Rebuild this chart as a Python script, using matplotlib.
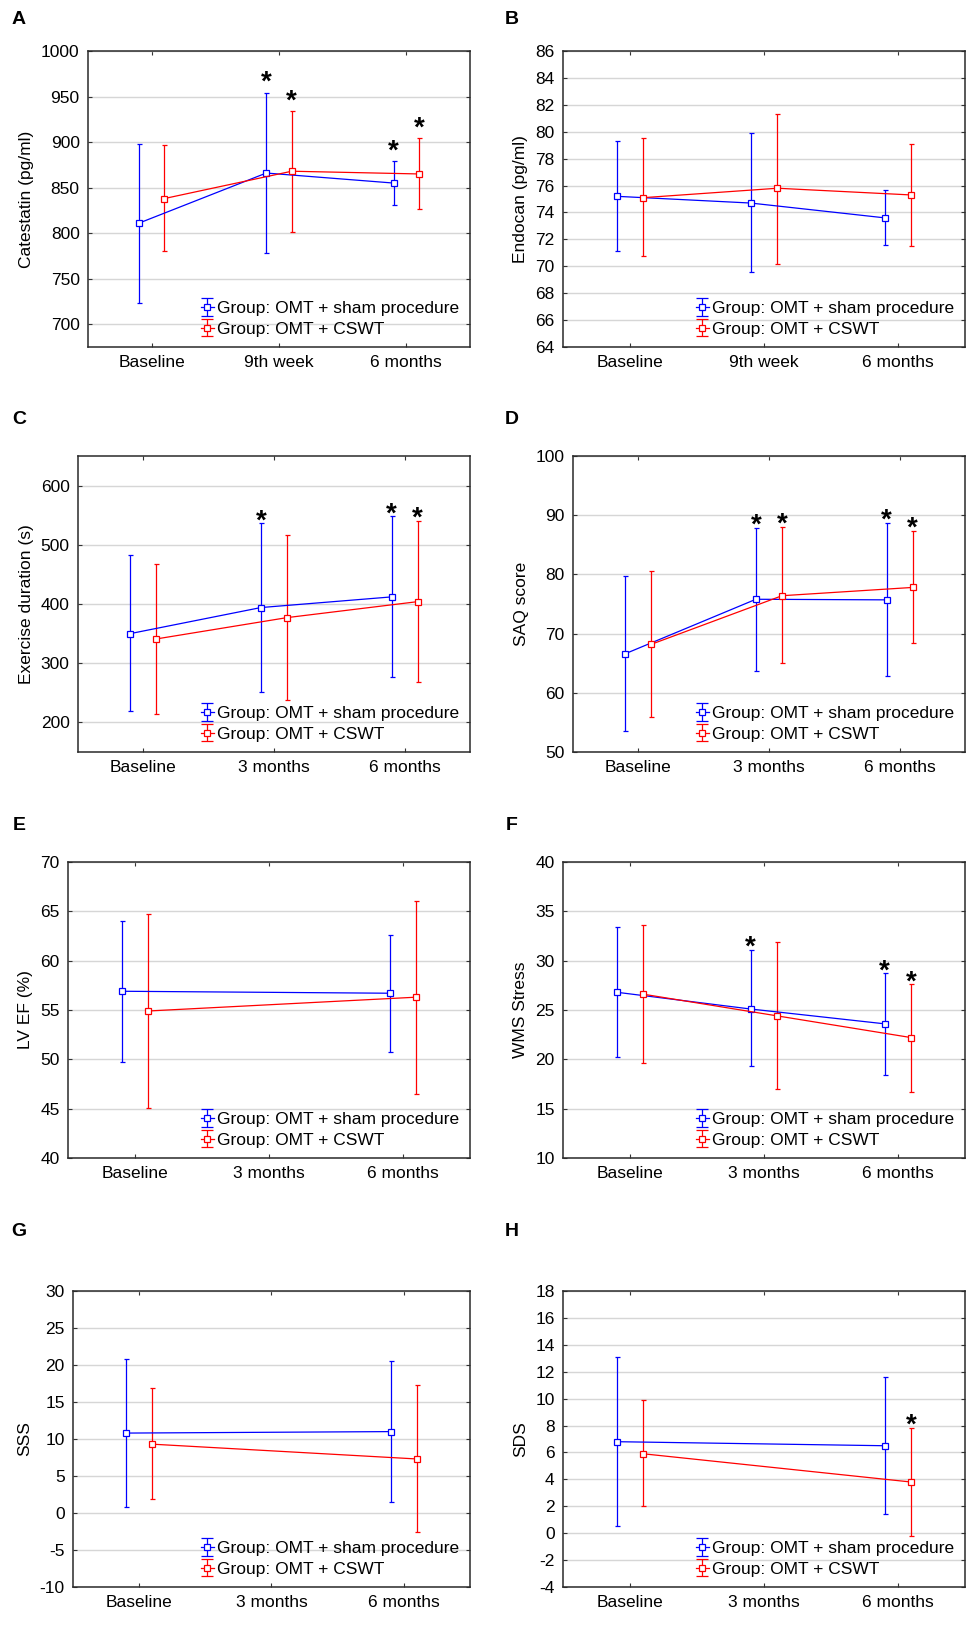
import numpy as np
import matplotlib
matplotlib.use('Agg')
import matplotlib.pyplot as plt
from matplotlib.lines import Line2D
from matplotlib.legend_handler import HandlerErrorbar

plt.rcParams['font.family'] = ['Liberation Sans', 'DejaVu Sans']
plt.rcParams['axes.unicode_minus'] = False

W, H = 970, 1637

groups = ['Group: OMT + sham procedure', 'Group: OMT + CSWT']
colors = ['#0000ff', '#ff0000']
offsets = [-0.1, 0.1]

labels_9w = ['Baseline', '9th week', '6 months']
labels_3m = ['Baseline', '3 months', '6 months']

# A - catestatin (pg/ml)
cat_mean = [[811, 866, 855], [838, 868, 865]]
cat_lo = [[723, 778, 831], [780, 801, 827]]
cat_hi = [[898, 954, 879], [897, 934, 904]]
cat_star = [[0, 1, 1], [0, 1, 1]]

# B - endocan (pg/ml)
endo_mean = [[75.2, 74.7, 73.6], [75.1, 75.8, 75.3]]
endo_lo = [[71.1, 69.6, 71.6], [70.8, 70.2, 71.5]]
endo_hi = [[79.3, 79.9, 75.7], [79.5, 81.3, 79.1]]
endo_star = [[0, 0, 0], [0, 0, 0]]

# C - exercise duration (s)
ex_mean = [[350, 394, 412], [341, 377, 404]]
ex_lo = [[220, 252, 276], [215, 238, 268]]
ex_hi = [[482, 536, 548], [467, 517, 540]]
ex_star = [[0, 1, 1], [0, 0, 1]]

# D - SAQ score
saq_mean = [[66.6, 75.8, 75.7], [68.2, 76.4, 77.8]]
saq_lo = [[53.6, 63.7, 62.8], [55.9, 65.0, 68.4]]
saq_hi = [[79.8, 87.9, 88.7], [80.6, 88.0, 87.4]]
saq_star = [[0, 1, 1], [0, 1, 1]]

# E - LV EF (%), no 3 month measurement
ef_mean = [[56.9, np.nan, 56.7], [54.9, np.nan, 56.3]]
ef_lo = [[49.7, np.nan, 50.7], [45.1, np.nan, 46.5]]
ef_hi = [[64.0, np.nan, 62.6], [64.7, np.nan, 66.0]]
ef_star = [[0, 0, 0], [0, 0, 0]]

# F - WMS stress
wms_mean = [[26.8, 25.1, 23.6], [26.6, 24.4, 22.2]]
wms_lo = [[20.2, 19.3, 18.4], [19.6, 17.0, 16.7]]
wms_hi = [[33.4, 31.1, 28.7], [33.6, 31.9, 27.6]]
wms_star = [[0, 1, 1], [0, 0, 1]]

# G - SSS
sss_mean = [[10.8, np.nan, 11.0], [9.3, np.nan, 7.3]]
sss_lo = [[0.8, np.nan, 1.5], [1.9, np.nan, -2.5]]
sss_hi = [[20.8, np.nan, 20.5], [16.9, np.nan, 17.3]]
sss_star = [[0, 0, 0], [0, 0, 0]]

# H - SDS
sds_mean = [[6.8, np.nan, 6.5], [5.9, np.nan, 3.8]]
sds_lo = [[0.5, np.nan, 1.4], [2.0, np.nan, -0.2]]
sds_hi = [[13.1, np.nan, 11.6], [9.9, np.nan, 7.8]]
sds_star = [[0, 0, 0], [0, 0, 1]]


class WideCaps(HandlerErrorbar):
    # legend caps in the original are as wide as the handle
    def create_artists(self, *args, **kwargs):
        arts = super().create_artists(*args, **kwargs)
        for a in arts:
            if isinstance(a, Line2D) and a.get_marker() == '_':
                a.set_markersize(9)
        return arts


def add_axes(fig, x0, y0, x1, y1):
    return fig.add_axes([x0 / W, 1 - y1 / H, (x1 - x0) / W, (y1 - y0) / H])


def draw(ax, xlabels, means, lows, highs, stars, ylim, yticks, ylabel, star_dy=-3.5):
    x = np.arange(3)
    for g in range(2):
        m = np.array(means[g], dtype=float)
        ok = ~np.isnan(m)
        xs = x[ok] + offsets[g]
        lo = np.array(lows[g], dtype=float)[ok]
        hi = np.array(highs[g], dtype=float)[ok]
        m = m[ok]
        ax.errorbar(xs, m, yerr=[m - lo, hi - m], color=colors[g], lw=0.9,
                    elinewidth=0.9, capsize=1.8, capthick=0.9, marker='s',
                    ms=4.5, mfc='white', mec=colors[g], mew=0.9,
                    label=groups[g], zorder=3)
        st = np.array(stars[g])[ok]
        for xi, h, s in zip(xs, hi, st):
            if s:
                ax.annotate('*', (xi, h), xytext=(0, star_dy),
                            textcoords='offset points', ha='center',
                            va='baseline', fontsize=20, fontweight='bold')
    ax.set_xlim(-0.5, 2.5)
    ax.set_xticks(x)
    ax.set_xticklabels(xlabels)
    ax.set_ylim(*ylim)
    ax.set_yticks(yticks)
    ax.set_ylabel(ylabel, fontsize=12.5, labelpad=5)
    ax.yaxis.grid(True, color='#d6d6d6', lw=1.0)
    ax.set_axisbelow(True)
    ax.tick_params(direction='in', length=3, width=0.8, top=True, right=True,
                   labelsize=12.5, pad=6, color='#333333')
    for sp in ax.spines.values():
        sp.set_color('#2a2a2a')
        sp.set_linewidth(1.1)
    ax.legend(loc='lower right', frameon=False, fontsize=12.5, handlelength=0.75,
              handletextpad=0.2, labelspacing=0.3, borderaxespad=0.4,
              borderpad=0.2, handler_map={type(ax.containers[0]): WideCaps()})


fig = plt.figure(figsize=(W / 100, H / 100), dpi=100)

axA = add_axes(fig, 88, 51, 470, 347)
draw(axA, labels_9w, cat_mean, cat_lo, cat_hi, cat_star, (675, 1000),
     np.arange(700, 1001, 50), 'Catestatin (pg/ml)', star_dy=2)
axB = add_axes(fig, 563, 51, 965, 347)
draw(axB, labels_9w, endo_mean, endo_lo, endo_hi, endo_star, (64, 86),
     np.arange(64, 87, 2), 'Endocan (pg/ml)')
axC = add_axes(fig, 78, 456, 470, 752)
draw(axC, labels_3m, ex_mean, ex_lo, ex_hi, ex_star, (150, 650),
     np.arange(200, 601, 100), 'Exercise duration (s)')
axD = add_axes(fig, 573, 456, 965, 752)
draw(axD, labels_3m, saq_mean, saq_lo, saq_hi, saq_star, (50, 100),
     np.arange(50, 101, 10), 'SAQ score')
axE = add_axes(fig, 68, 862, 470, 1158)
draw(axE, labels_3m, ef_mean, ef_lo, ef_hi, ef_star, (40, 70),
     np.arange(40, 71, 5), 'LV EF (%)')
axF = add_axes(fig, 563, 862, 965, 1158)
draw(axF, labels_3m, wms_mean, wms_lo, wms_hi, wms_star, (10, 40),
     np.arange(10, 41, 5), 'WMS Stress')
axG = add_axes(fig, 73, 1291, 470, 1587)
draw(axG, labels_3m, sss_mean, sss_lo, sss_hi, sss_star, (-10, 30),
     np.arange(-10, 31, 5), 'SSS')
axH = add_axes(fig, 563, 1291, 965, 1587)
draw(axH, labels_3m, sds_mean, sds_lo, sds_hi, sds_star, (-4, 18),
     np.arange(-4, 19, 2), 'SDS')

for lab, px, py in [('A', 19, 20), ('B', 512, 20), ('C', 19, 420), ('D', 512, 420),
                    ('E', 19, 825), ('F', 512, 825), ('G', 19, 1232), ('H', 512, 1232)]:
    fig.text(px / W, 1 - py / H, lab, fontsize=14, fontweight='bold',
             ha='center', va='center')

fig.savefig('out.png', dpi=100, facecolor='white')
